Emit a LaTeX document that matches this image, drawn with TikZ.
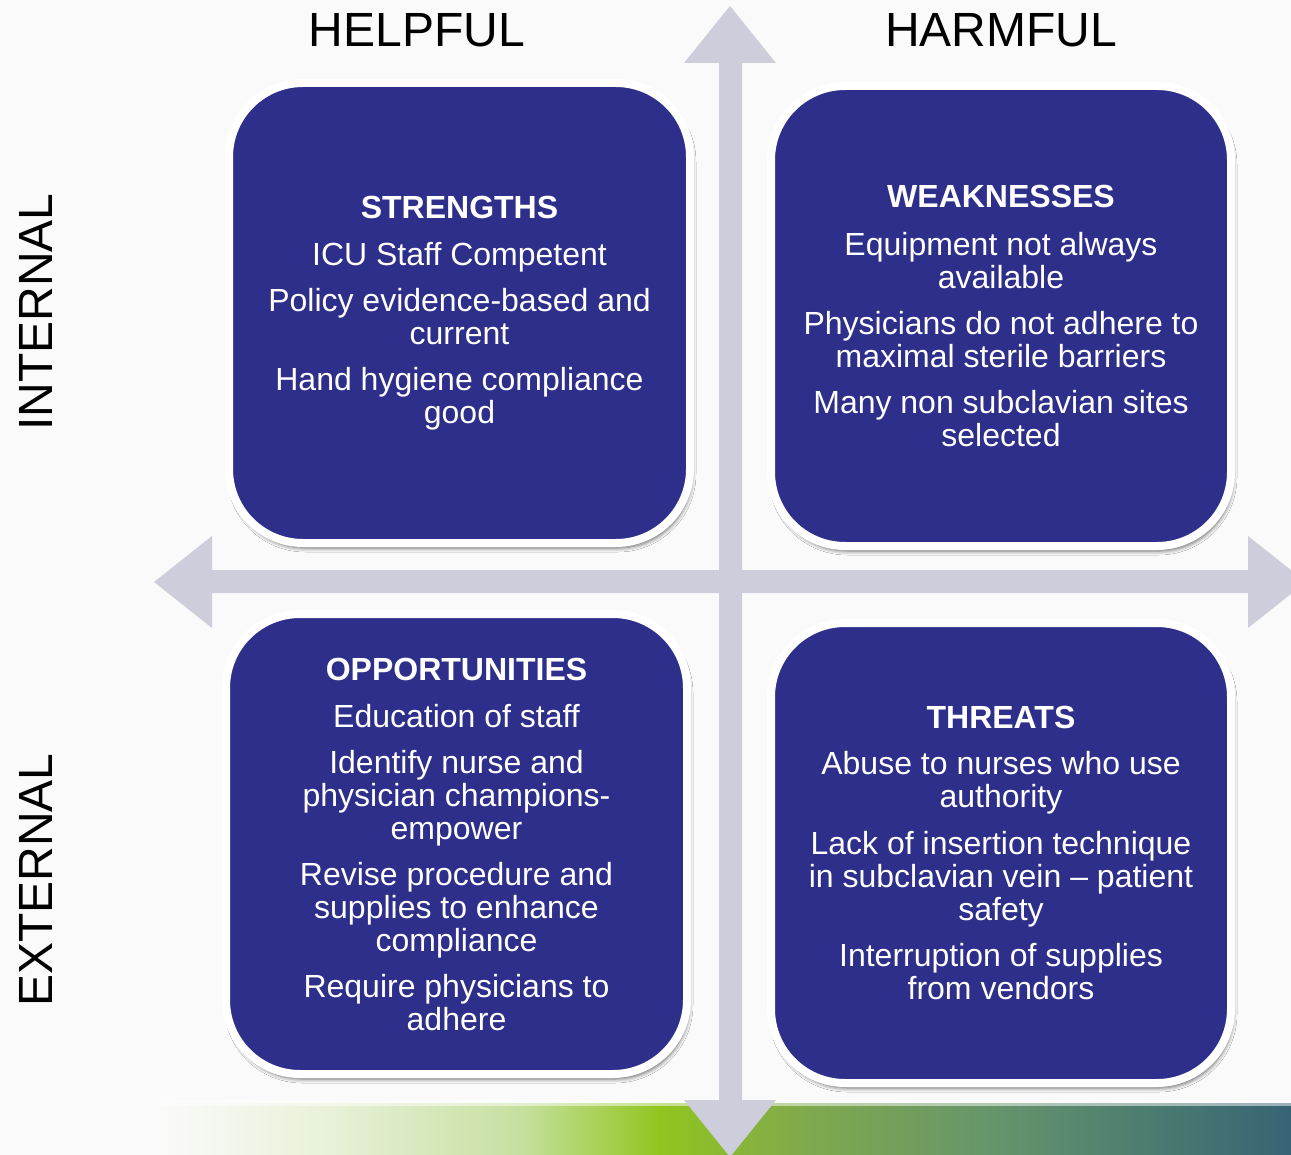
\documentclass[tikz,border=0pt]{standalone}
\usepackage{fontspec}
\setmainfont{Liberation Sans}
\usetikzlibrary{shadows.blur}
\definecolor{bgc}{RGB}{250,250,250}
\definecolor{navy}{RGB}{46,47,138}
\definecolor{arrowc}{RGB}{205,205,219}
\definecolor{g0}{RGB}{250,250,250}
\definecolor{g1}{RGB}{232,241,216}
\definecolor{g2}{RGB}{198,224,160}
\definecolor{g3}{RGB}{145,197,30}
\definecolor{g4}{RGB}{128,170,76}
\definecolor{g5}{RGB}{100,148,108}
\definecolor{g6}{RGB}{54,100,116}
\tikzset{
  swotbox/.style={draw=white, line width=8pt, fill=navy, rounded corners=74pt,
    minimum width=461pt, minimum height=460pt, inner sep=0pt, outer sep=0pt,
    text=white, align=center, font=\fontsize{32}{33}\selectfont,
    blur shadow={shadow xshift=2pt, shadow yshift=-5pt, shadow blur radius=4pt, shadow opacity=60}},
  axislabel/.style={font=\fontsize{48}{50}\selectfont, text=black, inner sep=0pt},
  arrowshape/.style={fill=arrowc, draw=none}
}
\begin{document}
\begin{tikzpicture}[x=1pt,y=-1pt]
\useasboundingbox (0,0) rectangle (1291,1155);
\fill[bgc] (0,0) rectangle (1291,1155);
% bottom gradient band
\fill[left color=g0, right color=g1] (160,1103) rectangle (330.5,1155);
\fill[left color=g1, right color=g2] (330,1103) rectangle (520.5,1155);
\fill[left color=g2, right color=g3] (520,1103) rectangle (660.5,1155);
\fill[left color=g3, right color=g4] (660,1103) rectangle (800.5,1155);
\fill[left color=g4, right color=g5] (800,1103) rectangle (1000.5,1155);
\fill[left color=g5, right color=g6] (1000,1103) rectangle (1291,1155);
\fill[white, opacity=0.5] (160,1100) rectangle (1291,1106);
% axes arrows
\fill[arrowshape] (719,63) -- (684,63) -- (730,6) -- (776,63) -- (742,63)
  -- (742,1100) -- (776,1100) -- (730,1157) -- (684,1100) -- (719,1100) -- cycle;
\fill[arrowshape] (212,570) -- (212,536) -- (154,582) -- (212,628) -- (212,593)
  -- (1248,593) -- (1248,628) -- (1306,582) -- (1248,536) -- (1248,570) -- cycle;
% axis labels
\node[axislabel] (helpful) at (417,30) {HELPFUL};
\node[axislabel] (harmful) at (1001,30) {HARMFUL};
\node[axislabel, rotate=90] (internal) at (36,312) {INTERNAL};
\node[axislabel, rotate=90] (external) at (36,880) {EXTERNAL};
% boxes
\node[swotbox] (strengths) at (459.5,313) {\textbf{STRENGTHS}\\[14pt]
  ICU Staff Competent\\[13pt]
  Policy evidence-based and\\ current\\[13pt]
  Hand hygiene compliance\\ good};
\node[swotbox, minimum width=460pt] (weaknesses) at (1001,316) {\textbf{WEAKNESSES}\\[15pt]
  Equipment not always\\ available\\[13pt]
  Physicians do not adhere to\\ maximal sterile barriers\\[13pt]
  Many non subclavian sites\\ selected};
\node[swotbox] (opportunities) at (456.5,844) {\textbf{OPPORTUNITIES}\\[14pt]
  Education of staff\\[13pt]
  Identify nurse and\\ physician champions-\\ empower\\[13pt]
  Revise procedure and\\ supplies to enhance\\ compliance\\[13pt]
  Require physicians to\\ adhere};
\node[swotbox, minimum width=460pt] (threats) at (1001,853) {\textbf{THREATS}\\[13pt]
  Abuse to nurses who use\\ authority\\[14pt]
  Lack of insertion technique\\ in subclavian vein -- patient\\ safety\\[13pt]
  Interruption of supplies\\ from vendors};
\end{tikzpicture}
\end{document}
